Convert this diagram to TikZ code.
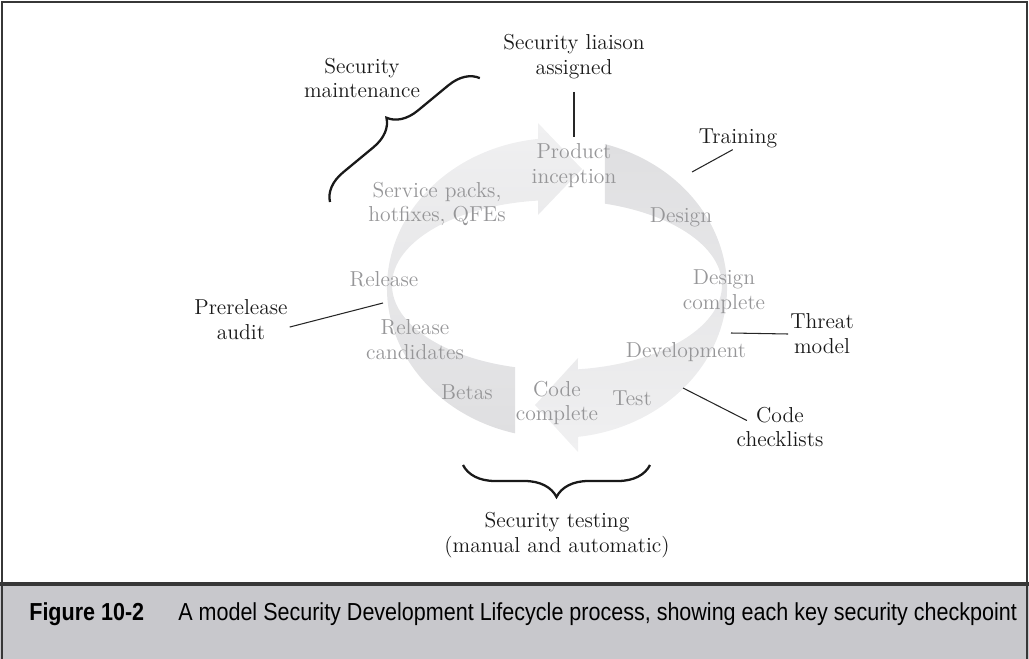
\documentclass[tikz,border=0pt]{standalone}
\usepackage{fontspec}
\newfontfamily\capfont[FakeStretch=0.875]{Liberation Sans}
\usetikzlibrary{calc, decorations.pathreplacing}
\definecolor{ringdark}{RGB}{223,223,225}
\definecolor{ringlight}{RGB}{240,240,241}
\definecolor{faintgray}{RGB}{150,150,152}
\definecolor{bandgray}{RGB}{200,200,204}
\definecolor{framegray}{RGB}{55,55,55}

\begin{document}
\begin{tikzpicture}[
    x=0.02cm, y=-0.02cm,
    lbl/.style={align=center, inner sep=1pt, font=\fontsize{12.3}{14.2}\selectfont, text=black!90},
    faint/.style={lbl, text=faintgray},
    leader/.style={line width=0.6pt, black!85},
    curly/.style={decorate, decoration={brace, amplitude=#1}, line width=1.3pt, black!90}
  ]
  \useasboundingbox (0,0) rectangle (1029,659);

  % Frame and caption band
  \fill[bandgray] (0,585) rectangle (1029,659);
  \draw[framegray, line width=2.2pt] (0,584) -- (1029,584);
  \draw[framegray, line width=1pt] (2,659) -- (2,2) -- (1027,2) -- (1027,659);

  % Ring
  \coordinate (oc) at (557,288);
  \coordinate (ic) at (557,285);
  \path[top color=ringdark, bottom color=ringlight]
    ($(oc)+(-73.6:170 and 150)$) arc[start angle=-73.6, end angle=82.9, x radius=170, y radius=150]
    -- (578,452) -- (535,405) -- (578,358)
    -- ($(ic)+(82.7:165 and 85)$) arc[start angle=82.7, end angle=-73.1, x radius=165, y radius=85] -- cycle;
  \path[top color=ringlight, bottom color=ringdark]
    ($(oc)+(104.3:170 and 150)$) arc[start angle=104.3, end angle=263.6, x radius=170, y radius=150]
    -- (538,123) -- (582,169) -- (538,215)
    -- ($(ic)+(263.4:165 and 85)$) arc[start angle=263.4, end angle=104.7, x radius=165, y radius=85] -- cycle;

  % Stages
  \node[faint] (inception) at (574,166) {Product\\inception};
  \node[faint] (design) at (681,217) {Design};
  \node[faint] (designdone) at (724,292) {Design\\complete};
  \node[faint] (develop) at (686,352) {Development};
  \node[faint] (test) at (632,398) {Test};
  \node[faint] (codedone) at (557,403) {Code\\complete};
  \node[faint] (betas) at (467,392) {Betas};
  \node[faint] (candidates) at (415,340) {Release\\candidates};
  \node[faint] (release) at (384,279) {Release};
  \node[faint] (service) at (437,204) {Service packs,\\hotfixes, QFEs};

  % Checkpoints
  \node[lbl] (maint) at (362,78) {Security\\maintenance};
  \node[lbl] (liaison) at (574,57) {Security liaison\\assigned};
  \node[lbl] (training) at (738,138) {Training};
  \node[lbl] (threat) at (822,334) {Threat\\model};
  \node[lbl] (checklists) at (780,427) {Code\\checklists};
  \node[lbl] (prerelease) at (241,320) {Prerelease\\audit};
  \node[lbl] (sectest) at (557,535) {Security testing\\(manual and automatic)};

  \coordinate (p-train) at (692,172);
  \coordinate (p-threat) at (731,333);
  \coordinate (p-code) at (683,388);
  \coordinate (p-audit) at (383,303);
  \draw[leader, shorten <=6pt, shorten >=3pt] (liaison) -- (inception);
  \draw[leader] ([xshift=-3pt]training.south) -- (p-train);
  \draw[leader] (threat.west) -- (p-threat);
  \draw[leader] ([xshift=7pt, yshift=-9pt]checklists.north west) -- (p-code);
  \draw[leader] ([yshift=-4pt]prerelease.east) -- (p-audit);

  % Braces
  \coordinate (mt-a) at (330,202);
  \coordinate (mt-b) at (480,78);
  \coordinate (st-a) at (650,465);
  \coordinate (st-b) at (463,465);
  \draw[curly=0.58cm] (mt-a) -- (mt-b);
  \draw[curly=0.64cm] (st-a) -- (st-b);

  % Caption
  \node[anchor=west, inner sep=0pt, font=\capfont\bfseries\fontsize{14}{16}\selectfont] (fig) at (29,614) {Figure 10-2};
  \node[anchor=west, inner sep=0pt, font=\capfont\fontsize{14}{16}\selectfont] (cap) at (178,614) {A model Security Development Lifecycle process, showing each key security checkpoint};
\end{tikzpicture}
\end{document}
